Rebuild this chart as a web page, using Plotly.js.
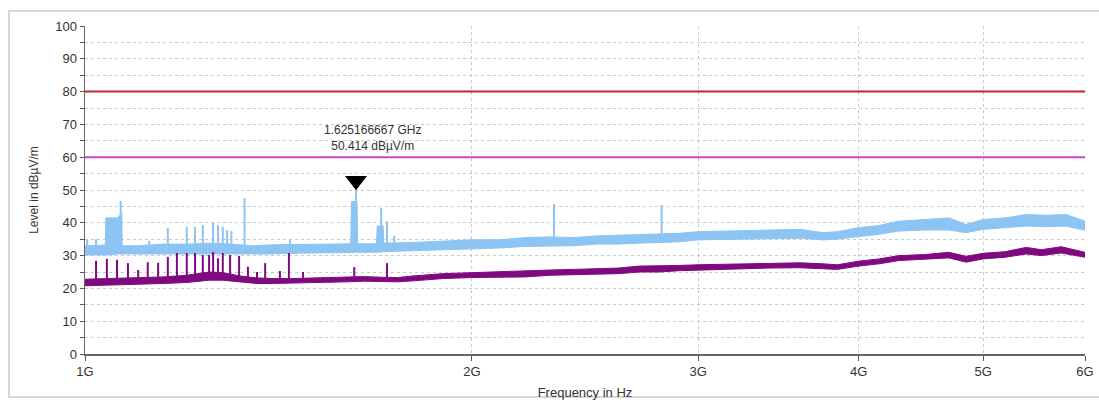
<!DOCTYPE html>
<html>
<head>
<meta charset="utf-8">
<script src="https://cdn.plot.ly/plotly-3.0.1.min.js"></script>
<style>
  html, body { margin: 0; padding: 0; background: #ffffff; }
  #wrap { position: relative; width: 1099px; height: 400px; overflow: hidden; }
  #frame { position: absolute; left: 8px; top: 10px; width: 1100px; height: 388px; border: 2px solid #d6d6d6; box-sizing: border-box; }
  #chart { position: absolute; left: 0; top: 0; width: 1099px; height: 400px; }
</style>
</head>
<body>
<div id="wrap">
  <div id="frame"></div>
  <div id="chart"></div>
</div>
<script>
// ---------------- data (GHz / dBµV/m) ----------------
const tickFreqGHz = [1, 2, 3, 4, 5, 6];
const tickLabels = ["1G", "2G", "3G", "4G", "5G", "6G"];

// Peak (light blue) trace envelope
const peakFreqGHz = [1.000, 1.020, 1.037, 1.038, 1.060, 1.068, 1.069, 1.100, 1.150, 1.200, 1.250, 1.300, 1.350, 1.400, 1.450, 1.500, 1.550, 1.610, 1.612, 1.628, 1.630, 1.686, 1.688, 1.706, 1.708, 1.800, 1.900, 2.000, 2.100, 2.200, 2.300, 2.400, 2.500, 2.600, 2.700, 2.900, 3.000, 3.200, 3.400, 3.600, 3.750, 3.850, 4.000, 4.150, 4.300, 4.500, 4.700, 4.850, 5.000, 5.200, 5.400, 5.600, 5.800, 5.950, 6.000];
const peakLow  = [30.2, 30.2, 30.2, 30.2, 30.5, 30.5, 30.5, 30.3, 30.5, 30.3, 30.5, 30.5, 30.3, 30.5, 30.7, 30.8, 31.0, 31.0, 31.0, 31.0, 31.0, 31.0, 31.0, 31.0, 31.2, 31.5, 31.8, 32.2, 32.3, 32.8, 33.0, 33.0, 33.5, 33.5, 33.8, 34.2, 34.8, 35.0, 35.2, 35.3, 34.8, 35.0, 35.8, 36.5, 37.5, 37.8, 37.8, 37.0, 38.0, 38.5, 39.0, 38.8, 39.0, 38.0, 37.8];
const peakHigh = [33.0, 33.0, 33.2, 41.5, 41.5, 43.0, 33.0, 33.0, 33.5, 33.5, 33.8, 33.5, 33.0, 33.3, 33.3, 33.5, 33.5, 33.6, 46.5, 46.5, 33.6, 33.6, 39.0, 39.0, 33.8, 34.0, 34.3, 34.8, 34.8, 35.5, 35.7, 35.5, 36.0, 36.2, 36.4, 36.8, 37.3, 37.5, 37.8, 38.0, 37.0, 37.3, 38.5, 39.2, 40.5, 41.0, 41.5, 39.5, 41.0, 41.5, 42.5, 42.3, 42.5, 41.0, 40.5];

// Peak trace spikes
const peakSpikeFreqGHz = [1.004, 1.020, 1.066, 1.122, 1.160, 1.200, 1.218, 1.235, 1.258, 1.269, 1.280, 1.290, 1.300, 1.331, 1.444, 1.625166667, 1.700, 1.718, 1.740, 2.317, 2.810];
const peakSpikeTop     = [34.8, 35.0, 46.7, 34.5, 38.4, 38.8, 38.8, 39.3, 40.0, 39.3, 38.8, 37.8, 37.5, 47.5, 35.0, 50.414, 44.5, 40.5, 36.0, 45.7, 45.4];
const peakSpikeBase    = [31.0, 31.0, 31.0, 31.0, 31.0, 31.0, 31.0, 31.0, 31.0, 31.0, 31.0, 31.0, 31.0, 31.0, 31.5, 31.5, 31.5, 31.5, 31.5, 33.5, 34.5];

// Average (purple) trace envelope
const avgFreqGHz = [1.00, 1.05, 1.10, 1.15, 1.20, 1.25, 1.28, 1.32, 1.36, 1.40, 1.45, 1.50, 1.55, 1.60, 1.65, 1.70, 1.75, 1.80, 1.90, 2.00, 2.10, 2.20, 2.30, 2.40, 2.50, 2.60, 2.70, 2.80, 2.90, 3.00, 3.20, 3.40, 3.60, 3.75, 3.85, 4.00, 4.15, 4.30, 4.50, 4.70, 4.85, 5.00, 5.20, 5.40, 5.55, 5.75, 5.90, 6.00];
const avgLow  = [20.8, 21.0, 21.2, 21.5, 21.8, 22.5, 22.5, 22.0, 21.5, 21.5, 21.6, 21.8, 22.0, 22.0, 22.2, 22.0, 22.0, 22.3, 23.0, 23.3, 23.5, 23.5, 24.0, 24.2, 24.3, 24.5, 25.0, 25.0, 25.4, 25.6, 25.8, 26.2, 26.3, 26.0, 25.8, 26.8, 27.5, 28.5, 28.8, 29.3, 28.0, 29.0, 29.5, 30.5, 30.0, 30.8, 30.0, 29.5];
const avgHigh = [22.8, 23.0, 23.2, 23.5, 24.0, 25.0, 24.8, 23.8, 23.2, 23.0, 23.0, 23.2, 23.3, 23.5, 23.6, 23.4, 23.3, 23.8, 24.5, 24.8, 25.0, 25.2, 25.6, 25.8, 26.0, 26.2, 26.8, 26.8, 27.0, 27.2, 27.4, 27.8, 27.8, 27.5, 27.2, 28.3, 29.0, 30.0, 30.3, 31.0, 29.8, 30.7, 31.2, 32.5, 31.8, 32.7, 31.8, 31.0];

// Average trace spikes
const avgSpikeFreqGHz = [1.020, 1.040, 1.059, 1.080, 1.100, 1.119, 1.140, 1.160, 1.179, 1.200, 1.218, 1.235, 1.249, 1.258, 1.269, 1.280, 1.297, 1.318, 1.339, 1.361, 1.381, 1.418, 1.441, 1.478, 1.620, 1.718];
const avgSpikeTop     = [28.4, 29.0, 28.7, 27.7, 25.6, 28.0, 27.8, 29.6, 30.8, 30.8, 30.8, 30.2, 30.2, 31.1, 29.2, 30.8, 30.2, 29.9, 26.6, 25.0, 27.7, 25.3, 30.8, 25.0, 26.5, 27.7];
const avgSpikeBase    = [22.0, 22.0, 22.0, 22.0, 22.0, 22.0, 22.5, 22.5, 22.5, 22.5, 23.0, 23.0, 23.0, 23.0, 23.0, 23.0, 23.0, 22.5, 22.5, 22.5, 22.5, 22.5, 22.5, 22.5, 23.0, 23.0];

// Limit lines
const limitNames  = ["Limit 80", "Limit 60"];
const limitLevels = [80, 60];
const limitStartGHz = 1;
const limitStopGHz = 6;

// Marker
const markerFreqGHz = 1.625166667;
const markerLevel = 50.414;
const markerLabel = ["1.625166667 GHz", "50.414 dBµV/m"];

// ---------------- drawing ----------------
const G = 1e9;
const hz = a => a.map(v => v * G);

const blue = "#8cc4f4";
const purple = "#7f0a7f";
const traces = [];

// Peak band
traces.push({x: hz(peakFreqGHz), y: peakLow, mode: "lines", line: {color: blue, width: 1}, hoverinfo: "skip"});
traces.push({x: hz(peakFreqGHz), y: peakHigh, mode: "lines", line: {color: blue, width: 1}, fill: "tonexty", fillcolor: blue, hoverinfo: "skip"});
// Peak spikes
(function () {
  const xs = [], ys = [];
  peakSpikeFreqGHz.forEach((f, i) => { xs.push(f * G, f * G, null); ys.push(peakSpikeBase[i], peakSpikeTop[i], null); });
  traces.push({x: xs, y: ys, mode: "lines", line: {color: blue, width: 2}, connectgaps: false, hoverinfo: "skip"});
})();

// Average band
traces.push({x: hz(avgFreqGHz), y: avgLow, mode: "lines", line: {color: purple, width: 1}, hoverinfo: "skip"});
traces.push({x: hz(avgFreqGHz), y: avgHigh, mode: "lines", line: {color: purple, width: 1}, fill: "tonexty", fillcolor: purple, hoverinfo: "skip"});
(function () {
  const xs = [], ys = [];
  avgSpikeFreqGHz.forEach((f, i) => { xs.push(f * G, f * G, null); ys.push(avgSpikeBase[i], avgSpikeTop[i], null); });
  traces.push({x: xs, y: ys, mode: "lines", line: {color: purple, width: 2}, connectgaps: false, hoverinfo: "skip"});
})();

// Limit lines
const limitColors = ["#c0282d", "#c845d4"];
limitLevels.forEach((lv, i) => {
  traces.push({name: limitNames[i], x: [limitStartGHz * G, limitStopGHz * G], y: [lv, lv], mode: "lines", line: {color: limitColors[i], width: 2}, hoverinfo: "skip"});
});

// Marker triangle (tip sits on the peak)
traces.push({x: [markerFreqGHz * G], y: [markerLevel + 2.4], mode: "markers", marker: {symbol: "triangle-down", size: 19, color: "#000000", line: {width: 0}}, hoverinfo: "skip"});

const gridColor = "#c9c9c9";
const fontFam = "Liberation Sans, Arial, sans-serif";

const layout = {
  width: 1099, height: 400,
  margin: {l: 85, r: 14, t: 26, b: 46},
  paper_bgcolor: "rgba(0,0,0,0)",
  plot_bgcolor: "#ffffff",
  showlegend: false,
  hovermode: false,
  font: {family: fontFam, size: 13, color: "#333333"},
  xaxis: {
    type: "log",
    range: [Math.log10(limitStartGHz * G), Math.log10(limitStopGHz * G)],
    tickvals: hz(tickFreqGHz),
    ticktext: tickLabels,
    ticks: "outside", ticklen: 5, tickcolor: "#555555", tickwidth: 1,
    showline: true, linecolor: "#666666", linewidth: 1.5,
    showgrid: true, gridcolor: gridColor, griddash: "3px,3px", gridwidth: 1,
    zeroline: false,
    tickfont: {size: 13, color: "#333333"},
    title: {text: "Frequency in Hz", font: {size: 13, color: "#333333"}, standoff: 10}
  },
  yaxis: {
    range: [0, 100],
    dtick: 10, tick0: 0,
    ticks: "outside", ticklen: 4, tickcolor: "#555555", tickwidth: 1,
    showline: true, linecolor: "#666666", linewidth: 1.5,
    showgrid: true, gridcolor: gridColor, griddash: "3px,3px", gridwidth: 1,
    zeroline: false,
    minor: {dtick: 5, tick0: 0, ticks: "outside", ticklen: 4, tickcolor: "#555555", showgrid: true, gridcolor: gridColor, griddash: "3px,3px", gridwidth: 1},
    tickfont: {size: 13, color: "#333333"},
    title: {text: "Level in dBµV/m", font: {size: 12, color: "#333333"}, standoff: 14}
  },
  annotations: [{
    x: Math.log10(markerFreqGHz * G), y: 66, xref: "x", yref: "y",
    text: markerLabel.join("<br>"), showarrow: false,
    xanchor: "center", yanchor: "middle", xshift: 16,
    font: {size: 12, color: "#333333", family: fontFam}
  }]
};

Plotly.newPlot("chart", traces, layout, {displayModeBar: false, staticPlot: true});
</script>
</body>
</html>
